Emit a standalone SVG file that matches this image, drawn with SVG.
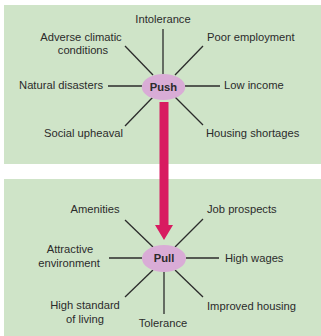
<svg xmlns="http://www.w3.org/2000/svg" width="321" height="336" viewBox="0 0 321 336">
<style>
.panel{fill:#cfe4c8}
.ray{stroke:#2b2b2b;stroke-width:1.3;fill:none}
.hub{fill:#d9acd6}
text{font-family:"Liberation Sans",Arial,sans-serif;font-size:11.2px;fill:#2b2b2b}
.hubt{font-weight:bold;text-anchor:middle}
.m{text-anchor:middle}
.e{text-anchor:end}
</style>
<rect class="panel" x="4" y="5" width="317" height="159"/>
<rect class="panel" x="4" y="179" width="317" height="157"/>
<g id="connectors">
<line class="ray" x1="163" y1="29" x2="163" y2="74"/>
<line class="ray" x1="125" y1="46" x2="153" y2="75"/>
<line class="ray" x1="203" y1="46" x2="175" y2="75"/>
<line class="ray" x1="108" y1="86" x2="142" y2="86"/>
<line class="ray" x1="185" y1="86" x2="220" y2="86"/>
<line class="ray" x1="153" y1="97" x2="125" y2="126"/>
<line class="ray" x1="175" y1="97" x2="203" y2="125"/>
<line class="ray" x1="125" y1="220" x2="153" y2="247"/>
<line class="ray" x1="203" y1="219" x2="175" y2="247"/>
<line class="ray" x1="109" y1="258" x2="142" y2="258"/>
<line class="ray" x1="186" y1="258" x2="219" y2="258"/>
<line class="ray" x1="153" y1="270" x2="125" y2="297"/>
<line class="ray" x1="164" y1="271" x2="164" y2="314"/>
<line class="ray" x1="175" y1="270" x2="203" y2="297"/>
<path d="M159.5 102 H168.5 V225 H173 L164 240 L155 225 H159.5 Z" fill="#d81b60"/>
</g>
<g id="push">
<ellipse class="hub" cx="163.5" cy="87" rx="21.7" ry="13"/>
<text class="hubt" x="163.5" y="90.5">Push</text>
</g>
<g id="pull">
<ellipse class="hub" cx="164" cy="258.5" rx="22" ry="13.5"/>
<text class="hubt" x="164" y="262">Pull</text>
</g>
<g id="intolerance"><text class="m" x="163" y="23">Intolerance</text></g>
<g id="adverse"><text class="m" x="81" y="41">Adverse climatic</text><text class="m" x="83" y="54">conditions</text></g>
<g id="poor-employment"><text x="207" y="41">Poor employment</text></g>
<g id="natural-disasters"><text class="e" x="103" y="89">Natural disasters</text></g>
<g id="low-income"><text x="224" y="89">Low income</text></g>
<g id="social-upheaval"><text x="44" y="137">Social upheaval</text></g>
<g id="housing-shortages"><text x="206" y="137">Housing shortages</text></g>
<g id="amenities"><text class="m" x="95" y="213">Amenities</text></g>
<g id="job-prospects"><text x="207" y="213">Job prospects</text></g>
<g id="attractive"><text class="m" x="70" y="253">Attractive</text><text class="m" x="69" y="267">environment</text></g>
<g id="high-wages"><text x="225" y="262">High wages</text></g>
<g id="high-standard"><text class="m" x="85" y="309">High standard</text><text class="m" x="85" y="323">of living</text></g>
<g id="tolerance"><text class="m" x="163" y="327">Tolerance</text></g>
<g id="improved-housing"><text x="207" y="310">Improved housing</text></g>
</svg>
